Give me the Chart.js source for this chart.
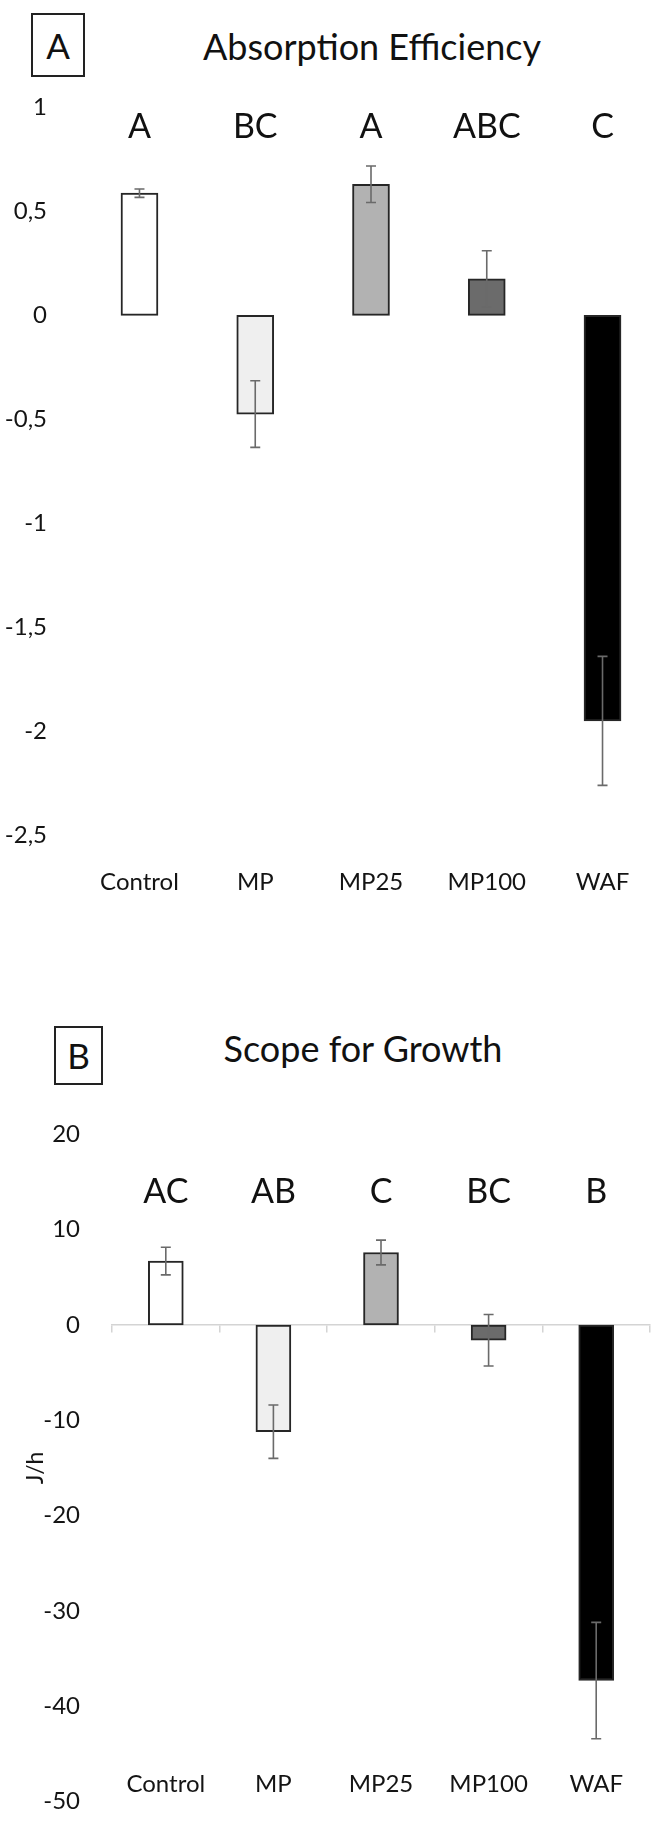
<!DOCTYPE html>
<html>
<head>
<meta charset="utf-8">
<title>Absorption Efficiency and Scope for Growth</title>
<script src="https://cdn.jsdelivr.net/npm/chart.js@4.4.1/dist/chart.umd.min.js"></script>
<style>
  html, body { margin: 0; padding: 0; background: #ffffff; }
  body {
    width: 651px; height: 1824px; overflow: hidden; position: relative;
    font-family: Lato, "Open Sans", sans-serif; color: #111111;
  }
  .tag {
    position: absolute; box-sizing: border-box; border: 2px solid #222222;
    text-align: center; font-size: 35px;
  }
  .heading {
    position: absolute; width: 440px; text-align: center;
    font-size: 36px; line-height: 36px; white-space: nowrap;
  }
  .frame { position: absolute; left: 0; }
  .frame canvas { display: block; }
</style>
</head>
<body>
  <div class="tag" style="left:31px; top:13px; width:54px; height:64px; line-height:60px;">A</div>
  <div class="heading" style="left:152px; top:28px;">Absorption Efficiency</div>
  <div class="frame" style="top:0; width:665px; height:920px;">
    <canvas id="chartA" width="665" height="920"></canvas>
  </div>

  <div class="tag" style="left:54px; top:1026px; width:49px; height:59px; line-height:55px;">B</div>
  <div class="heading" style="left:143px; top:1030px;">Scope for Growth</div>
  <div class="frame" style="top:940px; width:665px; height:900px;">
    <canvas id="chartB" width="665" height="900"></canvas>
  </div>

<script>
// Treatments and their bar fills
const categories = ['Control', 'MP', 'MP25', 'MP100', 'WAF'];
const barColors = ['#ffffff', '#efefef', '#b2b2b2', '#6b6b6b', '#000000'];

// Panel A: absorption efficiency (mean and error)
const absorptionMeans = [0.587, -0.475, 0.63, 0.175, -1.95];
const absorptionErrors = [0.02, 0.16, 0.088, 0.135, 0.31];
const absorptionGroups = ['A', 'BC', 'A', 'ABC', 'C'];
const absorptionTicks = [-2.5, -2, -1.5, -1, -0.5, 0, 0.5, 1];

// Panel B: scope for growth, J/h (mean and error)
const growthMeans = [6.7, -11.2, 7.6, -1.6, -37.3];
const growthErrors = [1.45, 2.8, 1.3, 2.7, 6.1];
const growthGroups = ['AC', 'AB', 'C', 'BC', 'B'];
const growthTicks = [-50, -40, -30, -20, -10, 0, 10, 20];

const FONT = "Lato, 'Open Sans', sans-serif";
const INK = '#141414';

// Vertical error bars with caps, drawn on top of each bar
const errorBarPlugin = {
  id: 'errorBars',
  afterDatasetsDraw(chart, args, opts) {
    const { ctx } = chart;
    const y = chart.scales.y;
    const meta = chart.getDatasetMeta(0);
    const values = chart.data.datasets[0].data;
    ctx.save();
    ctx.strokeStyle = opts.color;
    ctx.lineWidth = opts.width;
    meta.data.forEach((bar, i) => {
      const e = opts.errors[i];
      const top = y.getPixelForValue(values[i] + e);
      const bot = y.getPixelForValue(values[i] - e);
      ctx.beginPath();
      ctx.moveTo(bar.x, top); ctx.lineTo(bar.x, bot);
      ctx.moveTo(bar.x - opts.cap, top); ctx.lineTo(bar.x + opts.cap, top);
      ctx.moveTo(bar.x - opts.cap, bot); ctx.lineTo(bar.x + opts.cap, bot);
      ctx.stroke();
    });
    ctx.restore();
  }
};

// Significance group letters written above every bar at one common level
const groupLettersPlugin = {
  id: 'groupLetters',
  afterDatasetsDraw(chart, args, opts) {
    const { ctx } = chart;
    const y = chart.scales.y;
    const meta = chart.getDatasetMeta(0);
    const py = y.getPixelForValue(opts.level);
    ctx.save();
    ctx.font = opts.size + 'px ' + FONT;
    ctx.fillStyle = opts.color;
    ctx.textAlign = 'center';
    ctx.textBaseline = 'alphabetic';
    meta.data.forEach((bar, i) => ctx.fillText(opts.labels[i], bar.x, py));
    ctx.restore();
  }
};

const commaDecimal = v => String(Math.round(v * 10) / 10).replace('.', ',');

function baseDataset(values, thickness) {
  return {
    data: values,
    backgroundColor: barColors,
    borderColor: '#262626',
    borderWidth: 2,
    borderSkipped: false,
    barThickness: thickness,
    xAxisID: 'x',
    yAxisID: 'y'
  };
}

function drawCharts() {
  Chart.defaults.font.family = FONT;
  Chart.defaults.color = INK;

  new Chart(document.getElementById('chartA'), {
    type: 'bar',
    data: { labels: categories, datasets: [baseDataset(absorptionMeans, 37)] },
    options: {
      responsive: false,
      animation: false,
      events: [],
      layout: { padding: { top: 107.3, right: 4.6, bottom: 0, left: 0 } },
      plugins: {
        legend: { display: false },
        tooltip: { enabled: false },
        errorBars: { errors: absorptionErrors, color: '#6a6a6a', width: 1.6, cap: 5 },
        groupLetters: { labels: absorptionGroups, level: 0.852, size: 34, color: '#111111' }
      },
      scales: {
        x: {
          offset: true,
          grid: { display: false },
          border: { display: false },
          ticks: { color: INK, font: { size: 24 }, padding: 24.6, maxRotation: 0 },
          afterFit(s) { s.height = 84.7; }
        },
        y: {
          min: absorptionTicks[0],
          max: absorptionTicks[absorptionTicks.length - 1],
          grid: { display: false },
          border: { display: false },
          afterBuildTicks(s) { s.ticks = absorptionTicks.map(v => ({ value: v })); },
          ticks: { color: INK, font: { size: 24 }, padding: 26.6, callback: v => commaDecimal(v) },
          afterFit(s) { s.width = 81.6; }
        }
      }
    },
    plugins: [errorBarPlugin, groupLettersPlugin]
  });

  new Chart(document.getElementById('chartB'), {
    type: 'bar',
    data: { labels: categories, datasets: [baseDataset(growthMeans, 35)] },
    options: {
      responsive: false,
      animation: false,
      events: [],
      layout: { padding: { top: 194.3, right: 15, bottom: 23.2, left: 0 } },
      plugins: {
        legend: { display: false },
        tooltip: { enabled: false },
        errorBars: { errors: growthErrors, color: '#6a6a6a', width: 1.6, cap: 5 },
        groupLetters: { labels: growthGroups, level: 12.75, size: 34, color: '#111111' }
      },
      scales: {
        // zero line with tick marks between categories
        x: {
          axis: 'x',
          type: 'category',
          position: { y: 0 },
          offset: true,
          grid: {
            display: true, offset: true, drawOnChartArea: false, drawTicks: true,
            tickLength: 7, color: '#d4d4d4', lineWidth: 1.5
          },
          border: { display: true, color: '#d4d4d4', width: 1.5 },
          ticks: { display: false }
        },
        // category names near the bottom of the plot
        xNames: {
          axis: 'x',
          type: 'category',
          position: { y: growthTicks[0] },
          offset: true,
          grid: { display: false },
          border: { display: false },
          ticks: { color: INK, font: { size: 24 }, padding: -40.2, maxRotation: 0 }
        },
        y: {
          min: growthTicks[0],
          max: growthTicks[growthTicks.length - 1],
          grid: { display: false },
          border: { display: false },
          afterBuildTicks(s) { s.ticks = growthTicks.map(v => ({ value: v })); },
          ticks: { color: INK, font: { size: 24 }, padding: 24 },
          title: {
            display: true, text: 'J/h', color: INK,
            font: { size: 23 }, padding: { top: 22.2, bottom: 0 }
          },
          afterFit(s) { s.width = 112; }
        }
      }
    },
    plugins: [errorBarPlugin, groupLettersPlugin]
  });
}

const fontReady = document.fonts && document.fonts.load
  ? Promise.all([document.fonts.load('24px Lato'), document.fonts.load('36px Lato')]).catch(() => null)
  : Promise.resolve();
fontReady.then(drawCharts);
</script>
</body>
</html>
